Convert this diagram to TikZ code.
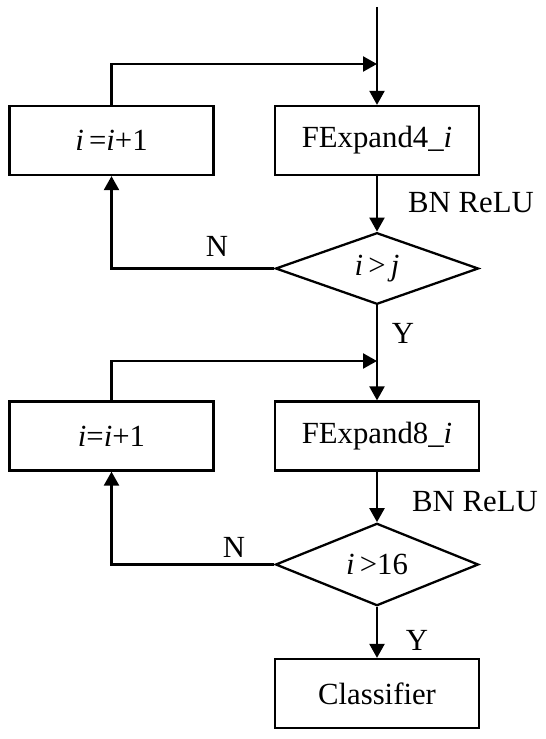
\documentclass[tikz,border=0pt]{standalone}
\usepackage{fontspec}
\setmainfont{Liberation Serif}
\usetikzlibrary{arrows.meta,shapes.geometric}

\begin{document}
\begin{tikzpicture}[x=0.02cm,y=-0.02cm,line width=1.3pt,
  >={Triangle[length=0.28cm,width=0.3cm]},
  txt/.style={font=\fontsize{17.5}{20}\selectfont},
  box/.style={txt,draw,rectangle,minimum width=4.08cm,minimum height=1.38cm,inner sep=0pt},
  test/.style={txt,draw,diamond,minimum width=4.06cm,minimum height=1.34cm,inner sep=0pt}]
\useasboundingbox (0,0) rectangle (546,739);
% first loop
\coordinate (top) at (377,7);
\coordinate (j1) at (377,64);
\node[box] (inc1) at (111.5,140.5) {\textit{i}\,=\textit{i}+1};
\node[box] (f4) at (377,140.5) {FExpand4\_\textit{i}};
\node[test] (d1) at (377,268.5) {\textit{i}\,>\,\textit{j}};
\draw[->] (top) -- (f4);
\draw[->] (inc1.north) |- (j1);
\draw[->] (f4) -- (d1);
\node[txt] (bn1) at (471,203) {BN ReLU};
\draw[->] (d1.west) -| (inc1.south);
\node[txt] (n1) at (217,246) {N};
% second loop
\coordinate (j2) at (377,361);
\node[box] (inc2) at (111.5,436) {\textit{i}=\textit{i}+1};
\node[box] (f8) at (377,436) {FExpand8\_\textit{i}};
\node[test] (d2) at (377,564.5) {\textit{i}\,>16};
\draw[->] (d1) -- (f8);
\node[txt] (y1) at (403,333) {Y};
\draw[->] (inc2.north) |- (j2);
\draw[->] (f8) -- (d2);
\node[txt] (bn2) at (475,502) {BN ReLU};
\draw[->] (d2.west) -| (inc2.south);
\node[txt] (n2) at (234,547) {N};
% output
\node[box] (cls) at (377,693.5) {Classifier};
\draw[->] (d2) -- (cls);
\node[txt] (y2) at (417,640) {Y};
\end{tikzpicture}
\end{document}
